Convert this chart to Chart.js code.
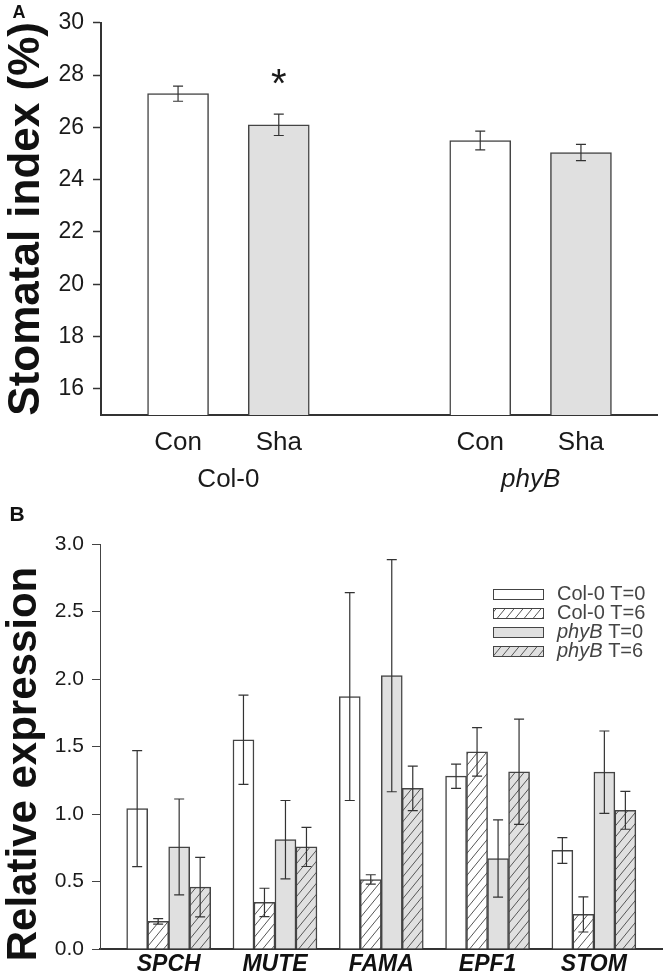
<!DOCTYPE html>
<html>
<head>
<meta charset="utf-8">
<script src="https://cdn.jsdelivr.net/npm/chart.js@4"></script>
<style>
html,body{margin:0;padding:0;background:#fff;}
#wrap{position:relative;width:664px;height:978px;overflow:hidden;}
#wrapA{position:absolute;left:0;top:0;width:664px;height:500px;}
#wrapB{position:absolute;left:0;top:500px;width:664px;height:478px;}
</style>
</head>
<body>
<div id="wrap">
  <div id="wrapA"><canvas id="chartA" width="664" height="500"></canvas></div>
  <div id="wrapB"><canvas id="chartB" width="664" height="478"></canvas></div>
</div>
<script>
// ---- panel A data
const aCategories = ["Con","Sha","Con","Sha"];
const aPositions = [1,2,4,5];
const aGroups = ["Col-0","phyB"];
const aGroupCenters = [1.5,4.5];
const aValues = [27.29,26.1,25.5,25.04];
const aErrors = [0.29,0.41,0.36,0.31];
const aTicks = [16,18,20,22,24,26,28,30];
const aSignif = [false,true,false,false];

// ---- panel B data
const genes = ["SPCH","MUTE","FAMA","EPF1","STOM"];
const seriesGenotype = ["Col-0","Col-0","phyB","phyB"];
const seriesTime = ["T=0","T=6","T=0","T=6"];
const col0T0 = [1.04,1.55,1.87,1.28,0.73];
const col0T0Err = [0.43,0.33,0.77,0.09,0.095];
const col0T6 = [0.205,0.345,0.515,1.46,0.256];
const col0T6Err = [0.02,0.105,0.035,0.18,0.13];
const phyBT0 = [0.756,0.81,2.025,0.67,1.31];
const phyBT0Err = [0.355,0.29,0.86,0.286,0.305];
const phyBT6 = [0.458,0.756,1.19,1.313,1.027];
const phyBT6Err = [0.22,0.145,0.165,0.39,0.14];
const bTicks = [0,0.5,1,1.5,2,2.5,3];

const FONT = "'Liberation Sans', Arial, sans-serif";
const WHITE = "#ffffff";
const GRAY = "#e0e0e0";
const EDGE = "#444";

function hatch(bg){
    const c = document.createElement("canvas");
    c.width = 9; c.height = 11;
    const x = c.getContext("2d");
    x.fillStyle = bg;
    x.fillRect(0,0,9,11);
    x.strokeStyle = "#555";
    x.lineWidth = 1;
    x.beginPath();
    x.moveTo(0,11); x.lineTo(9,0);
    x.moveTo(-9,11); x.lineTo(0,0);
    x.moveTo(9,11); x.lineTo(18,0);
    x.stroke();
    return x.createPattern(c,"repeat");
}

// error bars drawn from dataset.errors through the y scale
const errorBars = {
    id:"errorBars",
    afterDatasetsDraw(chart, args, opts){
        const ctx = chart.ctx;
        const ys = chart.scales.y;
        ctx.save();
        ctx.strokeStyle = "#333";
        ctx.lineWidth = 1.2;
        chart.data.datasets.forEach((ds, di)=>{
            const meta = chart.getDatasetMeta(di);
            meta.data.forEach((bar, i)=>{
                const v = ds.data[i].y;
                const e = ds.errors[i];
                const top = ys.getPixelForValue(v + e);
                const bot = ys.getPixelForValue(v - e);
                const w = opts.cap;
                ctx.beginPath();
                ctx.moveTo(bar.x, top); ctx.lineTo(bar.x, bot);
                ctx.moveTo(bar.x - w, top); ctx.lineTo(bar.x + w, top);
                ctx.moveTo(bar.x - w, bot); ctx.lineTo(bar.x + w, bot);
                ctx.stroke();
            });
        });
        ctx.restore();
    }
};

const panelA = {
    id:"panelA",
    afterDraw(chart){
        const ctx = chart.ctx;
        const xs = chart.scales.x;
        const ys = chart.scales.y;
        ctx.save();
        ctx.fillStyle = "#111";
        ctx.font = "bold 18px " + FONT;
        ctx.textAlign = "center";
        ctx.textBaseline = "middle";
        ctx.fillText("A", 19, 13);
        ctx.fillStyle = "#1a1a1a";
        aGroups.forEach((g, i)=>{
            ctx.font = (g === "phyB" ? "italic " : "") + "26px " + FONT;
            ctx.fillText(g, xs.getPixelForValue(aGroupCenters[i]), chart.chartArea.bottom + 65);
        });
        ctx.font = "40px " + FONT;
        ctx.textBaseline = "alphabetic";
        aSignif.forEach((s, i)=>{
            if(!s) return;
            const y = ys.getPixelForValue(aValues[i] + aErrors[i]);
            ctx.fillText("*", xs.getPixelForValue(aPositions[i]), y - 17);
        });
        ctx.restore();
    }
};

const panelB = {
    id:"panelB",
    afterDraw(chart){
        const ctx = chart.ctx;
        const area = chart.chartArea;
        ctx.save();
        ctx.fillStyle = "#111";
        ctx.font = "bold 21px " + FONT;
        ctx.textAlign = "center";
        ctx.textBaseline = "middle";
        ctx.fillText("B", 17, 15);
        // y title
        ctx.save();
        ctx.translate(24, 264);
        ctx.rotate(-Math.PI / 2);
        ctx.font = "bold 42px " + FONT;
        ctx.fillText("Relative expression", 0, 0);
        ctx.restore();
        // legend
        const x0 = area.right - 169;
        chart.data.datasets.forEach((ds, i)=>{
            const yc = area.top + 50 + i * 19;
            ctx.fillStyle = ds.backgroundColor;
            ctx.fillRect(x0, yc - 5, 50, 10);
            ctx.strokeStyle = EDGE;
            ctx.lineWidth = 1;
            ctx.strokeRect(x0 + 0.5, yc - 5 + 0.5, 50, 10);
            ctx.fillStyle = "#444";
            ctx.textAlign = "left";
            let tx = x0 + 64;
            const g = seriesGenotype[i];
            ctx.font = (g === "phyB" ? "italic " : "") + "20px " + FONT;
            ctx.fillText(g, tx, yc);
            tx += ctx.measureText(g + " ").width;
            ctx.font = "20px " + FONT;
            ctx.fillText(seriesTime[i], tx, yc);
        });
        ctx.restore();
    }
};

new Chart(document.getElementById("chartA"), {
    type:"bar",
    data:{
        datasets:[{
            data:aPositions.map((p, i)=>({x:p, y:aValues[i]})),
            errors:aErrors,
            backgroundColor:aCategories.map(c => c === "Con" ? WHITE : GRAY),
            borderColor:EDGE,
            borderWidth:1.5,
            barThickness:61
        }]
    },
    options:{
        responsive:false,
        animation:false,
        layout:{padding:{top:17, right:7, left:0, bottom:0}},
        plugins:{legend:{display:false}, tooltip:{enabled:false}, errorBars:{cap:5}},
        scales:{
            x:{
                type:"linear",
                offset:false,
                min:0.235,
                max:5.755,
                afterBuildTicks:s => { s.ticks = aPositions.map(v => ({value:v})); },
                afterFit:s => { s.height = 85; },
                ticks:{
                    autoSkip:false,
                    maxRotation:0,
                    padding:12,
                    color:"#1a1a1a",
                    font:{family:FONT, size:26},
                    callback:(v) => aCategories[aPositions.indexOf(v)]
                },
                grid:{display:false, drawTicks:false},
                border:{display:true, color:"#333", width:2}
            },
            y:{
                min:15,
                max:30,
                afterBuildTicks:s => { s.ticks = aTicks.map(v => ({value:v})); },
                afterFit:s => { s.width = 101; },
                ticks:{
                    padding:9,
                    color:"#1a1a1a",
                    font:{family:FONT, size:23}
                },
                grid:{drawOnChartArea:false, drawTicks:true, tickLength:8, color:"#333", tickWidth:1.5},
                border:{display:true, color:"#333", width:2},
                title:{
                    display:true,
                    text:"Stomatal index (%)",
                    color:"#111",
                    font:{family:FONT, size:44, weight:"bold"},
                    padding:0
                }
            }
        }
    },
    plugins:[errorBars, panelA]
});

const seriesValues = [col0T0, col0T6, phyBT0, phyBT6];
const seriesErrors = [col0T0Err, col0T6Err, phyBT0Err, phyBT6Err];
const seriesFills = [WHITE, hatch(WHITE), GRAY, hatch(GRAY)];

new Chart(document.getElementById("chartB"), {
    type:"bar",
    data:{
        datasets:seriesValues.map((vals, si)=>({
            label:seriesGenotype[si] + " " + seriesTime[si],
            data:vals.map((v, i)=>({x:i + 1, y:v})),
            errors:seriesErrors[si],
            backgroundColor:seriesFills[si],
            borderColor:EDGE,
            borderWidth:1.5,
            barThickness:21
        }))
    },
    options:{
        responsive:false,
        animation:false,
        layout:{padding:{top:44, right:2, left:0, bottom:0}},
        plugins:{legend:{display:false}, tooltip:{enabled:false}, errorBars:{cap:5}},
        scales:{
            x:{
                type:"linear",
                offset:false,
                min:0.354,
                max:5.641,
                afterBuildTicks:s => { s.ticks = genes.map((g, i) => ({value:i + 1})); },
                afterFit:s => { s.height = 29; },
                ticks:{
                    autoSkip:false,
                    maxRotation:0,
                    padding:2,
                    color:"#111",
                    font:{family:FONT, size:23, weight:"bold", style:"italic"},
                    callback:(v) => genes[v - 1]
                },
                grid:{display:false, drawTicks:false},
                border:{display:true, color:"#333", width:2}
            },
            y:{
                min:0,
                max:3,
                afterBuildTicks:s => { s.ticks = bTicks.map(v => ({value:v})); },
                afterFit:s => { s.width = 100; },
                ticks:{
                    padding:8,
                    color:"#1a1a1a",
                    font:{family:FONT, size:21},
                    callback:(v) => Number(v).toFixed(1)
                },
                grid:{drawOnChartArea:false, drawTicks:true, tickLength:8, color:"#444", tickWidth:1},
                border:{display:true, color:"#444", width:1}
            }
        }
    },
    plugins:[errorBars, panelB]
});
</script>
</body>
</html>
